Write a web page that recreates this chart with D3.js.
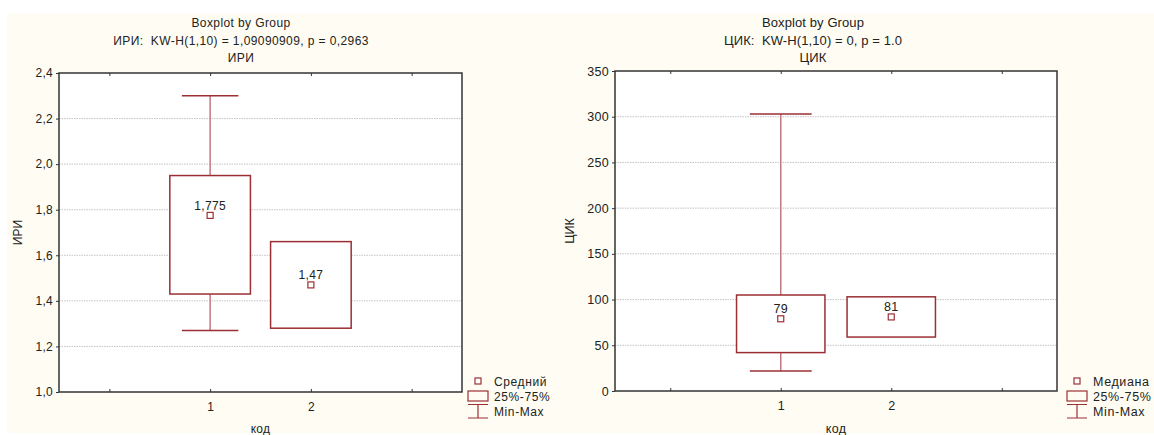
<!DOCTYPE html>
<html>
<head>
<meta charset="utf-8">
<script src="https://cdn.jsdelivr.net/npm/d3@7"></script>
<style>
  body { margin: 0; background: #fff; }
  svg { display: block; font-family: "Liberation Sans", Arial, sans-serif; }
</style>
</head>
<body>
<div id="container"></div>
<script>
// DATA ####################################
const codes = [1, 2];

// ИРИ (mean, 25-75%, min-max)
const iriMin  = [1.27, 1.28];
const iriQ1   = [1.43, 1.28];
const iriMean = [1.775, 1.47];
const iriQ3   = [1.95, 1.66];
const iriMax  = [2.30, 1.66];
const iriTicks = [1.0, 1.2, 1.4, 1.6, 1.8, 2.0, 2.2, 2.4];

// ЦИК (median, 25-75%, min-max)
const cikMin    = [22, 59];
const cikQ1     = [42, 59];
const cikMedian = [79, 81];
const cikQ3     = [105, 103];
const cikMax    = [303, 103];
const cikTicks = [0, 50, 100, 150, 200, 250, 300, 350];

const xTicks = [0, 1, 2, 3];

// CONSTANTS ###############################
const width = 1154, height = 435;
const boxColor = "#9b2f34";
const comma = v => String(v).replace(".", ",");

const svg = d3.select("#container")
  .append("svg")
  .attr("width", width)
  .attr("height", height);

// cream panel background
svg.append("rect")
  .attr("x", 7).attr("y", 14)
  .attr("width", width - 7).attr("height", 419)
  .attr("fill", "#fffdf3");

// DRAW ONE PANEL ##########################
function drawPanel(p) {
  const x = d3.scaleLinear().domain([-0.5, 3.5]).range([p.left, p.right]);
  const y = d3.scaleLinear().domain([p.ticks[0], p.ticks[p.ticks.length - 1]]).range([p.bottom, p.top]);
  const g = svg.append("g");
  const fs = p.fontSize;

  // plot area
  g.append("rect")
    .attr("x", p.left).attr("y", p.top)
    .attr("width", p.right - p.left).attr("height", p.bottom - p.top)
    .attr("fill", "#fff");

  // grid
  g.selectAll("line.grid")
    .data(p.ticks.slice(1, -1))
    .join("line")
    .attr("class", "grid")
    .attr("x1", p.left).attr("x2", p.right)
    .attr("y1", d => y(d)).attr("y2", d => y(d))
    .attr("stroke", "#c4c4c4")
    .attr("stroke-width", 1)
    .attr("stroke-dasharray", "1.5,1");

  // axes
  const yAxis = g.append("g")
    .attr("transform", `translate(${p.left},0)`)
    .call(d3.axisLeft(y).tickValues(p.ticks).tickFormat(p.fmt).tickSize(3).tickPadding(3));
  const xAxis = g.append("g")
    .attr("transform", `translate(0,${p.bottom})`)
    .call(d3.axisBottom(x).tickValues(xTicks).tickFormat(d => codes.includes(d) ? d : "").tickSize(-3).tickPadding(10));
  const xTop = g.append("g")
    .attr("transform", `translate(0,${p.top})`)
    .call(d3.axisTop(x).tickValues(xTicks).tickFormat("").tickSize(-3));
  [yAxis, xAxis, xTop].forEach(a => {
    a.select(".domain").remove();
    a.selectAll("line").attr("stroke", "#333");
    a.selectAll("text").attr("fill", "#222").style("font-size", fs + "px").style("letter-spacing", "0.3px");
  });

  // frame
  g.append("rect")
    .attr("x", p.left).attr("y", p.top)
    .attr("width", p.right - p.left).attr("height", p.bottom - p.top)
    .attr("fill", "none")
    .attr("stroke", "#333")
    .attr("stroke-width", 1.5);

  const bw = 0.4, cw = 0.28;

  // whiskers (only where min-max reaches beyond the box)
  const withWhisker = codes.filter((d, i) => p.min[i] < p.q1[i] || p.max[i] > p.q3[i]);
  const idx = d => codes.indexOf(d);
  g.selectAll("line.stem")
    .data(withWhisker)
    .join("line")
    .attr("class", "stem")
    .attr("x1", d => x(d)).attr("x2", d => x(d))
    .attr("y1", d => y(p.min[idx(d)])).attr("y2", d => y(p.max[idx(d)]))
    .attr("stroke", "#c07a7e").attr("stroke-width", 1.5);
  ["min", "max"].forEach(k => {
    g.selectAll("line.cap-" + k)
      .data(withWhisker)
      .join("line")
      .attr("class", "cap-" + k)
      .attr("x1", d => x(d - cw)).attr("x2", d => x(d + cw))
      .attr("y1", d => y(p[k][idx(d)])).attr("y2", d => y(p[k][idx(d)]))
      .attr("stroke", boxColor).attr("stroke-width", 1.5);
  });

  // boxes
  g.selectAll("rect.box")
    .data(codes)
    .join("rect")
    .attr("class", "box")
    .attr("x", d => x(d - bw))
    .attr("width", d => x(d + bw) - x(d - bw))
    .attr("y", (d, i) => y(p.q3[i]))
    .attr("height", (d, i) => y(p.q1[i]) - y(p.q3[i]))
    .attr("fill", "#fff")
    .attr("stroke", boxColor)
    .attr("stroke-width", 1.5);

  // center markers
  g.selectAll("rect.mid")
    .data(codes)
    .join("rect")
    .attr("class", "mid")
    .attr("x", d => x(d) - 3)
    .attr("y", (d, i) => y(p.mid[i]) - 3)
    .attr("width", 6).attr("height", 6)
    .attr("fill", "#fff")
    .attr("stroke", boxColor)
    .attr("stroke-width", 1.2);
  g.selectAll("text.mid")
    .data(codes)
    .join("text")
    .attr("class", "mid")
    .attr("x", d => x(d))
    .attr("y", (d, i) => y(p.mid[i]) - 5.5)
    .attr("text-anchor", "middle")
    .style("font-size", fs + "px")
    .style("letter-spacing", "0.3px")
    .attr("fill", "#222")
    .text((d, i) => p.fmt(p.mid[i]));

  // titles
  p.titles.forEach((t, i) => {
    g.append("text")
      .attr("x", p.titleX)
      .attr("y", [27, 45, 62][i])
      .attr("text-anchor", "middle")
      .style("font-size", p.titleSize + "px")
      .style("letter-spacing", p.titleSpacing + "px")
      .style("white-space", "pre")
      .attr("fill", "#222")
      .text(t);
  });

  // axis titles
  g.append("text")
    .attr("transform", `translate(${p.yLabelX},${(p.top + p.bottom) / 2}) rotate(-90)`)
    .attr("text-anchor", "middle")
    .style("font-size", fs + "px")
    .attr("fill", "#222")
    .text(p.yLabel);
  g.append("text")
    .attr("x", (p.left + p.right) / 2)
    .attr("y", 433)
    .attr("text-anchor", "middle")
    .style("font-size", fs + "px")
    .style("letter-spacing", "0.3px")
    .attr("fill", "#222")
    .text("код");

  // legend
  const lx = p.legendX;
  g.append("rect")
    .attr("x", lx + 7).attr("y", 378).attr("width", 6).attr("height", 6)
    .attr("fill", "#fff").attr("stroke", boxColor).attr("stroke-width", 1.2);
  g.append("rect")
    .attr("x", lx).attr("y", 391).attr("width", 20).attr("height", 10)
    .attr("fill", "none").attr("stroke", boxColor).attr("stroke-width", 1.2);
  g.append("path")
    .attr("d", `M${lx},404.5H${lx + 20}M${lx + 10},404.5V418M${lx},418H${lx + 20}`)
    .attr("fill", "none").attr("stroke", boxColor).attr("stroke-width", 1.2);
  [p.midLabel, "25%-75%", "Min-Max"].forEach((t, i) => {
    g.append("text")
      .attr("x", lx + 26)
      .attr("y", [386, 401, 416][i])
      .style("font-size", fs + "px")
      .style("letter-spacing", "0.6px")
      .attr("fill", "#222")
      .text(t);
  });
}

drawPanel({
  left: 59, right: 462, top: 73, bottom: 392,
  ticks: iriTicks,
  fmt: v => comma(v % 1 === 0 ? v.toFixed(1) : v),
  min: iriMin, q1: iriQ1, mid: iriMean, q3: iriQ3, max: iriMax,
  titles: ["Boxplot by Group", "ИРИ:  KW-H(1,10) = 1,09090909, p = 0,2963", "ИРИ"],
  titleX: 241, titleSize: 12, titleSpacing: 0.4,
  yLabel: "ИРИ", yLabelX: 22,
  midLabel: "Средний",
  legendX: 468,
  fontSize: 12
});

drawPanel({
  left: 615, right: 1057, top: 71, bottom: 391,
  ticks: cikTicks,
  fmt: v => String(v),
  min: cikMin, q1: cikQ1, mid: cikMedian, q3: cikQ3, max: cikMax,
  titles: ["Boxplot by Group", "ЦИК:  KW-H(1,10) = 0, p = 1.0", "ЦИК"],
  titleX: 813, titleSize: 13, titleSpacing: 0.1,
  yLabel: "ЦИК", yLabelX: 574,
  midLabel: "Медиана",
  legendX: 1067,
  fontSize: 12.5
});
</script>
</body>
</html>
